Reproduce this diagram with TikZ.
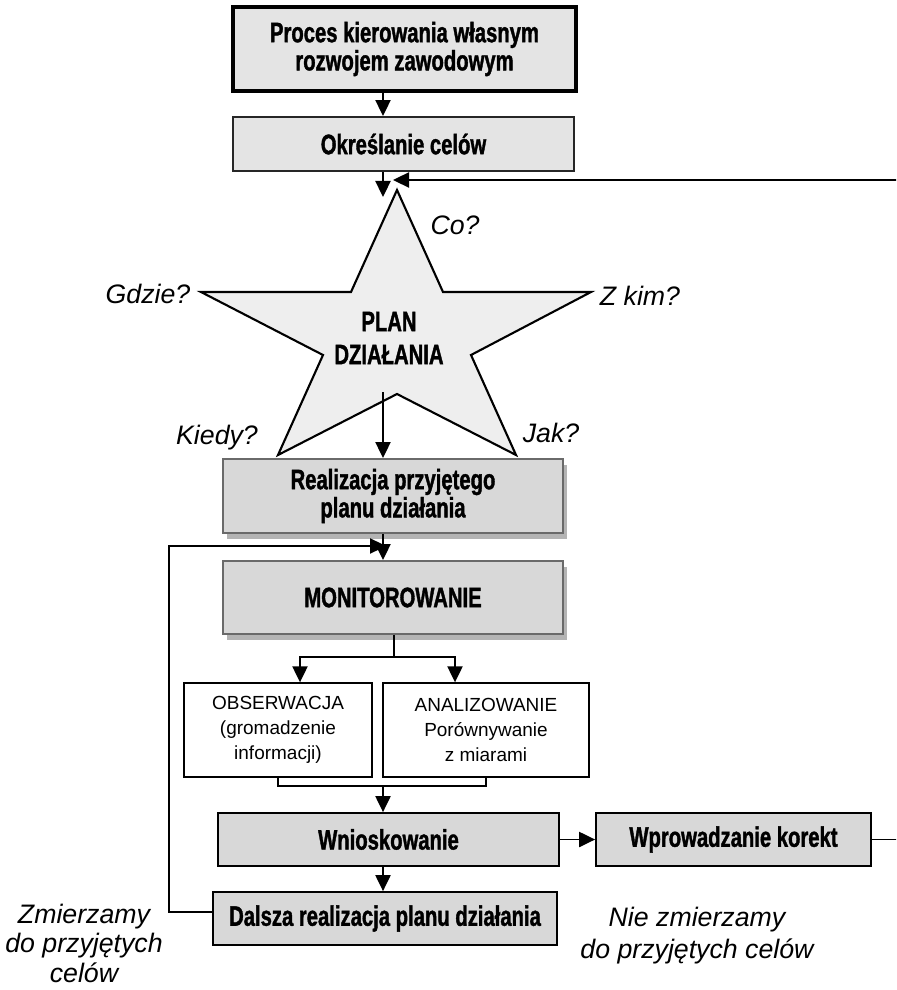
\documentclass[tikz,border=0pt]{standalone}
\usepackage{fontspec}
\setmainfont{Liberation Sans}
\newfontfamily\condfont[FakeStretch=0.72,FakeBold=1.3]{Liberation Sans}
\usetikzlibrary{arrows.meta,shadows}

\definecolor{starfill}{HTML}{EEEEEE}
\definecolor{lightfill}{HTML}{E4E4E4}
\definecolor{grayfill}{HTML}{D8D8D8}
\definecolor{edgegray}{HTML}{6A6A6A}
\definecolor{shadowgray}{HTML}{B4B4B4}

\begin{document}
\begin{tikzpicture}[x=0.025cm, y=-0.025cm,
  wh/.style 2 args={minimum width=#1*0.025cm, minimum height=#2*0.025cm, inner sep=0pt},
  boldtxt/.style={font=\condfont\bfseries\fontsize{20pt}{20pt}\selectfont, align=center},
  topbox/.style={boldtxt, draw=black, line width=2.8pt, fill=lightfill},
  lightbox/.style={boldtxt, draw=black!85, line width=1.4pt, fill=lightfill},
  shadedbox/.style={boldtxt, draw=edgegray, line width=1.4pt, fill=grayfill,
    drop shadow={shadow xshift=0.1cm, shadow yshift=-0.15cm, fill=shadowgray, opacity=1}},
  graybox/.style={boldtxt, draw=black, line width=1.3pt, fill=grayfill},
  plainbox/.style={draw=black, line width=1pt, fill=white, align=center,
    font=\fontsize{13.5pt}{17.8pt}\selectfont},
  qlabel/.style={font=\itshape\fontsize{19pt}{21.5pt}\selectfont, align=center, inner sep=0pt},
  conn/.style={line width=1.1pt},
  arr/.style={-{Triangle[length=0.4cm,width=0.38cm]}},
  starstyle/.style={draw=black, line width=1.5pt, fill=starfill, line join=miter}
]
\useasboundingbox (0,0) rectangle (896,990);
\begin{scope}
\clip (0,0) rectangle (896,990);

% --- boxes of the main flow ---
\node[topbox, wh={343}{84}] (proces) at (404.5,49) {Proces kierowania własnym\\rozwojem zawodowym};
\node[lightbox, wh={341}{54}] (okresl) at (403.5,144) {Określanie celów};

% five-pointed star of the action plan
\filldraw[starstyle] (397,190) coordinate (startop) -- (443,292) -- (591,292) -- (471,355)
  -- (516,455) -- (397,394) -- (278,455) -- (323,355) -- (201,292) -- (351,292) -- cycle;
\node[boldtxt, font=\condfont\bfseries\fontsize{20pt}{23.5pt}\selectfont] (plan) at (389,338) {PLAN\\DZIAŁANIA};

\node[shadedbox, wh={340}{74}] (real) at (393,496) {Realizacja przyjętego\\planu działania};
\node[shadedbox, wh={340}{73}] (monit) at (393,597.5) {MONITOROWANIE};

\node[plainbox, wh={188}{94}] (obs) at (278,730) {OBSERWACJA\\(gromadzenie\\informacji)};
\node[plainbox, wh={206}{94}] (anal) at (486,730) {ANALIZOWANIE\\Porównywanie\\z miarami};

\node[graybox, wh={341}{53}] (wnio) at (388.5,839.5) {Wnioskowanie};
\node[graybox, wh={275}{53}] (wprow) at (733.5,839.5) {Wprowadzanie korekt};
\node[graybox, wh={344}{53}] (dalsza) at (385,918.5) {Dalsza realizacja planu działania};

% --- question labels around the star ---
\node[qlabel] (co) at (455,225) {Co?};
\node[qlabel] (gdzie) at (148,294) {Gdzie?};
\node[qlabel] (zkim) at (640,296) {Z kim?};
\node[qlabel] (kiedy) at (217,438) {Kiedy?};
\node[qlabel] (jak) at (551,433) {Jak?};

% --- outcome labels ---
\node[qlabel, font=\itshape\fontsize{19pt}{21pt}\selectfont] (zmierz) at (84,943) {Zmierzamy\\do przyjętych\\celów};
\node[qlabel, font=\itshape\fontsize{19pt}{22.8pt}\selectfont] (niezm) at (697,936) {Nie zmierzamy\\do przyjętych celów};

% --- connectors ---
\coordinate (cx) at (383,0);
\coordinate (tip1) at (383,197);
\coordinate (starout) at (383,392);
\draw[conn,arr] (proces.south -| cx) -- (okresl.north -| cx);
\draw[conn,arr] (okresl.south -| cx) -- (tip1);
\draw[conn,arr] (starout) -- (real.north -| cx);
\draw[conn,arr] (real.south -| cx) -- (monit.north -| cx);

% split towards observation and analysis
\coordinate (ms) at (394,657);
\coordinate (oL) at (300,0);
\coordinate (aR) at (455,0);
\draw[conn] (monit.south -| ms) -- (ms);
\draw[conn,arr] (ms) -| (obs.north -| oL);
\draw[conn,arr] (ms) -| (anal.north -| aR);

% join back into conclusions
\coordinate (bj) at (383,786);
\draw[conn] (obs.south) -- (obs.south |- bj) -- (anal.south |- bj) -- (anal.south);
\draw[conn,arr] (bj) -- (wnio.north -| bj);
\draw[conn,arr] (wnio.east) -- (wprow.west);
\draw[conn,arr] (wnio.south -| cx) -- (dalsza.north -| cx);

% feedback loop: continue the plan
\coordinate (lfy) at (0,912);
\coordinate (lft) at (169,546);
\coordinate (mtip) at (386,546);
\draw[conn,arr] (dalsza.west |- lfy) -| (lft) -- (mtip);

% feedback loop: corrections return to the plan
\coordinate (fbout) at (930,180);
\coordinate (fbin) at (393,180);
\draw[conn,arr] (wprow.east) -| (fbout) -- (fbin);
\end{scope}
\end{tikzpicture}
\end{document}
